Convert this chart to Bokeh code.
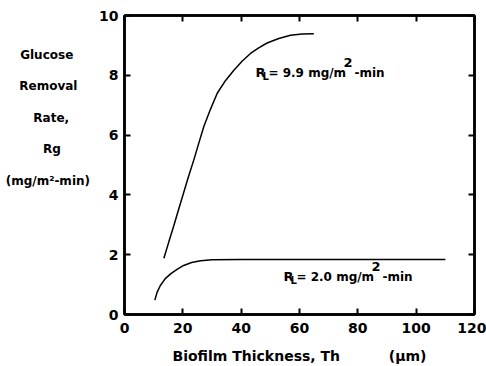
from bokeh.plotting import figure
from bokeh.models import Range1d, LinearAxis, Label, FixedTicker
from bokeh.embed import file_html
from bokeh.resources import INLINE

# Upper curve, R_L = 9.9 mg/m2-min
th_high = [13.5, 15.2, 16.9, 18.6, 20.3, 22.0, 23.8, 25.5, 27.2, 29.5, 31.8, 34.6, 37.5, 40.3, 43.2, 46.0, 48.9, 52.9, 56.9, 60.9, 64.9]
rg_high = [1.88, 2.43, 2.97, 3.53, 4.08, 4.63, 5.18, 5.74, 6.29, 6.87, 7.40, 7.82, 8.17, 8.47, 8.73, 8.92, 9.08, 9.23, 9.34, 9.38, 9.39]

# Lower curve, R_L = 2.0 mg/m2-min
th_low = [10.4, 11.2, 12.3, 13.9, 15.8, 18.0, 20.3, 23.0, 26.1, 30.0, 40.0, 60.0, 80.0, 100.0, 110.0]
rg_low = [0.48, 0.75, 0.97, 1.19, 1.36, 1.51, 1.64, 1.74, 1.80, 1.83, 1.84, 1.84, 1.84, 1.84, 1.84]

x_ticks = [0, 20, 40, 60, 80, 100, 120]
y_ticks = [0, 2, 4, 6, 8, 10]

y_title_lines = ["Glucose", "Removal", "Rate,", "Rg", "(mg/m\u00b2-min)"]
x_title = "Biofilm Thickness, Th" + "\u00a0" * 10 + "(\u00b5m)"

FONT = "DejaVu Sans"
NB = "\u00a0"

p = figure(width=486, height=366, output_backend="svg", toolbar_location=None,
           x_range=Range1d(0, 120), y_range=Range1d(0, 10),
           min_border_left=124, min_border_right=12, min_border_top=15, min_border_bottom=50,
           x_axis_location=None, y_axis_location=None)
p.grid.visible = False
p.outline_line_color = "black"
p.outline_line_width = 2.5
p.background_fill_color = "white"
p.border_fill_color = "white"

def make_axis(ticks, show_labels):
    ax = LinearAxis(ticker=FixedTicker(ticks=ticks))
    ax.axis_line_width = 2.5
    ax.axis_line_color = "black"
    ax.major_tick_in = 6
    ax.major_tick_out = 0
    ax.major_tick_line_width = 2
    ax.minor_tick_line_color = None
    if show_labels:
        ax.major_label_text_font = FONT
        ax.major_label_text_font_style = "bold"
        ax.major_label_text_font_size = "14px"
        ax.major_label_text_color = "black"
        ax.major_label_standoff = 7
    else:
        ax.major_label_text_font_size = "1px"
        ax.major_label_text_color = None
        ax.major_label_standoff = 0
    return ax

xb = make_axis(x_ticks, True)
xb.major_label_standoff = 8
xb.axis_label = x_title
xb.axis_label_text_font = FONT
xb.axis_label_text_font_style = "bold"
xb.axis_label_text_font_size = "14px"
xb.axis_label_text_color = "black"
xb.axis_label_standoff = 12
p.add_layout(xb, "below")

# lines of the y title are right-aligned by the axis; pad them so they sit centred
pads = [4, 3, 5, 7, 0]
yl = make_axis(y_ticks, True)
yl.major_label_standoff = 6
yl.axis_label = "\n".join([t + NB * n for t, n in zip(y_title_lines, pads)] + ["", "", ""])
yl.axis_label_orientation = "horizontal"
yl.axis_label_text_font = FONT
yl.axis_label_text_font_style = "bold"
yl.axis_label_text_font_size = "12px"
yl.axis_label_text_color = "black"
yl.axis_label_text_line_height = 2.245
yl.axis_label_standoff = 6
p.add_layout(yl, "left")

p.add_layout(make_axis(x_ticks, False), "above")
p.add_layout(make_axis(y_ticks, False), "right")

p.line(th_high, rg_high, line_color="black", line_width=1.5)
p.line(th_low, rg_low, line_color="black", line_width=1.5)

def lab(x, y, text, size="12px", x_offset=0, y_offset=0):
    p.add_layout(Label(x=x, y=y, text=text, text_font=FONT, text_font_style="bold",
                       text_font_size=size, text_align="left", text_baseline="middle",
                       text_color="black", x_offset=x_offset, y_offset=y_offset))

def rl_label(x, y, value_text):
    lab(x, y, "R", size="13px")
    lab(x, y, "L", size="10px", x_offset=7, y_offset=-4)
    lab(x, y, "= " + value_text + " mg/m", x_offset=13)
    lab(x, y, "2", size="13px", x_offset=88, y_offset=10)
    lab(x, y, "-min", x_offset=99)

rl_label(44.9, 8.09, "9.9")
rl_label(54.5, 1.26, "2.0")

open("out.html", "w").write(file_html(p, INLINE))
